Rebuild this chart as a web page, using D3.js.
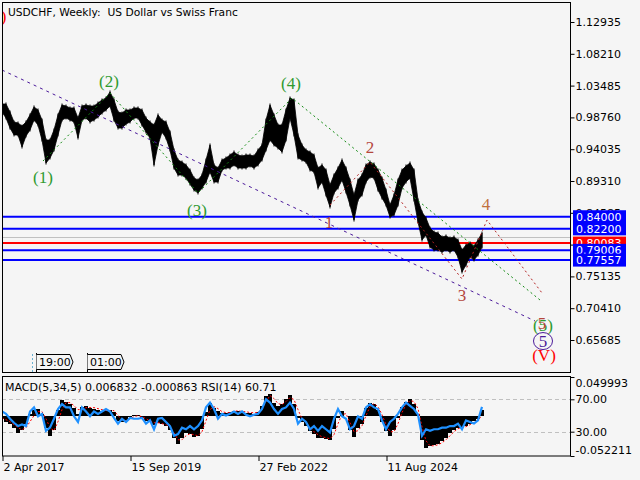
<!DOCTYPE html>
<html><head><meta charset="utf-8">
<script src="https://cdn.jsdelivr.net/npm/d3@7"></script>
<style>
body{margin:0;background:#f5f5f5}
svg{display:block}
text{font-family:"DejaVu Sans",sans-serif}
</style></head>
<body><svg id="c" width="640" height="480"></svg>
<script>
// ---------- DATA ----------
const startWeek = "2017-04-02";
const stepWeeks = 4;
const highs = [1.0075,1.0075,0.9956,0.9808,0.9793,0.9748,0.9808,0.9912,1.0031,0.9986,
0.9837,0.9540,0.9540,0.9689,0.9912,1.0060,1.0045,1.0016,1.0016,0.9867,
1.0045,1.0060,1.0045,1.0045,1.0090,1.0135,1.0164,1.0253,1.0135,0.9956,
0.9941,0.9986,0.9986,1.0016,1.0016,0.9986,0.9867,0.9808,0.9763,0.9912,
0.9837,0.9808,0.9659,0.9392,0.9243,0.9213,0.9169,0.9094,0.8975,0.8946,
0.9020,0.9243,0.9466,0.9169,0.9124,0.9243,0.9273,0.9317,0.9362,0.9317,
0.9302,0.9317,0.9317,0.9302,0.9392,0.9466,0.9837,1.0060,0.9912,0.9763,
0.9763,0.9986,1.0164,1.0135,0.9615,0.9466,0.9392,0.9362,0.9317,0.9124,
0.9169,0.9094,0.8872,0.9020,0.9124,0.9243,0.9124,0.8946,0.8723,0.8946,
0.9020,0.9169,0.9213,0.9184,0.9094,0.8975,0.8797,0.8574,0.8723,0.8946,
0.9094,0.9154,0.9198,0.9094,0.8649,0.8470,0.8381,0.8232,0.8173,0.8158,
0.8099,0.8114,0.8084,0.8099,0.8054,0.7906,0.7980,0.8010,0.7965,0.8054,
0.8158];
const lows = [0.9956,0.9867,0.9718,0.9615,0.9615,0.9436,0.9600,0.9689,0.9837,0.9763,
0.9540,0.9198,0.9273,0.9392,0.9615,0.9837,0.9867,0.9837,0.9808,0.9570,
0.9837,0.9867,0.9808,0.9837,0.9882,0.9941,0.9986,1.0045,0.9837,0.9718,
0.9718,0.9778,0.9808,0.9867,0.9867,0.9763,0.9659,0.9570,0.9169,0.9466,
0.9659,0.9570,0.9392,0.9124,0.9020,0.9020,0.8975,0.8886,0.8797,0.8753,
0.8827,0.8916,0.9065,0.8916,0.8916,0.9094,0.9124,0.9124,0.9169,0.9124,
0.9124,0.9124,0.9154,0.9124,0.9169,0.9243,0.9392,0.9540,0.9466,0.9421,
0.9362,0.9540,0.9867,0.9615,0.9273,0.9243,0.9213,0.9094,0.9065,0.8827,
0.8916,0.8723,0.8545,0.8753,0.8827,0.8946,0.8767,0.8574,0.8351,0.8649,
0.8723,0.8916,0.8990,0.8975,0.8797,0.8678,0.8574,0.8396,0.8426,0.8574,
0.8827,0.8916,0.8975,0.8649,0.8322,0.8054,0.8128,0.7950,0.7906,0.7906,
0.7876,0.7906,0.7876,0.7906,0.7802,0.7579,0.7683,0.7802,0.7757,0.7831,
0.7950];
const macd = [-0.0039,-0.0078,-0.0104,-0.0156,-0.0221,-0.0182,-0.0104,0.0026,0.0078,0.0091,
0.0026,-0.0156,-0.026,-0.0182,0.0078,0.0208,0.0182,0.0156,0.0104,0.0026,
0.0117,0.013,0.0104,0.0091,0.0078,0.0065,0.0065,0.0078,0.0052,-0.0065,
-0.0078,-0.0065,-0.0013,0.0013,0.0013,-0.0026,-0.0065,-0.0078,-0.0117,-0.0091,
-0.0104,-0.013,-0.0182,-0.0286,-0.0364,-0.0286,-0.0221,-0.0234,-0.0273,-0.026,
-0.0169,0.0052,0.0169,0.0104,0.0065,0.0039,0.0039,0.0052,0.0065,0.0065,
0.0052,0.0039,0.0039,0.0026,0.0052,0.013,0.026,0.0286,0.0169,0.013,
0.0156,0.0221,0.0273,0.0156,-0.0026,-0.0078,-0.013,-0.0195,-0.0234,-0.0286,
-0.0286,-0.0299,-0.0312,-0.0169,-0.0026,0.0065,0.0,-0.0182,-0.0273,-0.0156,
-0.0104,0.0104,0.0169,0.0156,0.0078,-0.0078,-0.0195,-0.026,-0.0182,-0.0026,
0.0117,0.0182,0.0221,0.0156,0.0026,-0.0312,-0.0416,-0.039,-0.0377,-0.0364,
-0.0325,-0.0286,-0.0221,-0.0182,-0.0156,-0.0143,-0.013,-0.0104,-0.0065,-0.0039,
0.006832];
const signal = [-0.0026,-0.0052,-0.0078,-0.0117,-0.0156,-0.0182,-0.0156,-0.0078,0,0.0052,
0.0052,-0.0039,-0.0156,-0.0195,-0.0078,0.0078,0.0169,0.0169,0.013,0.0078,
0.0078,0.0104,0.0104,0.0104,0.0091,0.0078,0.0065,0.0065,0.0065,0,
-0.0052,-0.0065,-0.0039,-0.0013,0,-0.0013,-0.0039,-0.0065,-0.0091,-0.0091,
-0.0104,-0.0117,-0.0143,-0.0221,-0.0312,-0.0312,-0.026,-0.0234,-0.0247,-0.026,
-0.0208,-0.0065,0.0078,0.0117,0.0091,0.0052,0.0039,0.0039,0.0052,0.0065,
0.0052,0.0052,0.0039,0.0039,0.0039,0.0091,0.0182,0.026,0.0221,0.0156,
0.0143,0.0182,0.0234,0.0208,0.0078,-0.0039,-0.0091,-0.0156,-0.0208,-0.0247,
-0.0273,-0.0286,-0.0299,-0.0247,-0.0104,0.0013,0.0026,-0.0091,-0.0208,-0.0195,
-0.013,0,0.0117,0.0156,0.0117,0.0013,-0.0117,-0.0208,-0.0208,-0.0104,
0.0039,0.0143,0.0195,0.0182,0.0091,-0.0143,-0.0325,-0.039,-0.039,-0.0377,
-0.0351,-0.0312,-0.026,-0.0208,-0.0169,-0.0156,-0.0143,-0.0117,-0.0091,-0.0052,
-0.000863];
const rsi = [55,52,46,41,37,39,37,55,60,49,
52,31,35,46,58,64,60,60,49,42,
60,55,49,55,52,55,58,55,47,40,
46,42,47,46,46,47,40,44,33,46,
47,42,37,25,27,35,33,37,33,37,
44,60,66,58,46,52,50,52,55,52,
55,51,49,51,52,58,70,66,58,52,
58,60,66,58,40,46,42,33,37,31,
37,33,29,46,58,49,46,33,37,49,
46,60,64,60,58,44,33,42,46,52,
60,66,62,58,51,25,33,31,33,33,
35,35,37,37,40,33,44,42,40,44,
60.71];
const priceTicks = [1.12935,1.08210,1.03485,0.98760,0.94035,0.89310,0.84585,0.79860,0.75135,0.70410,0.65685];
const dateTickWeeks = [0,128,256,384];
const dateTickLabels = ["2 Apr 2017","15 Sep 2019","27 Feb 2022","11 Aug 2024"];
const levelValues = [0.84000,0.82200,0.80083,0.79006,0.77557];
const levelKinds = ["blue","blue","red","blue","blue"];
const askPrice = 0.8094;
// wave points: [week offset from start, price]
const waveGreen = [[41,0.9228],[108,1.0238],[196,0.8753],[290,1.0164],[538,0.7163]];
const waveRed = [[328,0.8574],[368,0.9213],[460,0.7475],[485,0.8351],[540,0.7267]];
const wavePurple = [[0,1.0580],[533,0.6851]];
const waveLabels = [
  {t:"(1)",w:41,p:0.8990,k:"g"},{t:"(2)",w:107,p:1.0402,k:"g"},{t:"(3)",w:195,p:0.8500,k:"g"},
  {t:"(4)",w:289,p:1.0387,k:"g"},{t:"(5)",w:541,p:0.6791,k:"g"},
  {t:"1",w:327,p:0.8307,k:"r"},{t:"2",w:368,p:0.9436,k:"r"},{t:"3",w:460,p:0.7237,k:"r"},
  {t:"4",w:484,p:0.8589,k:"o"},{t:"5",w:540,p:0.6814,k:"r"},
  {t:"5",w:541,p:0.6553,k:"p",circle:true},{t:"(V)",w:542,p:0.6345,k:"v"},
  {t:")",w:1.5,p:1.1368,k:"v"}
];
const titleText = "USDCHF, Weekly:  US Dollar vs Swiss Franc";
const subTitle = "MACD(5,34,5) 0.006832 -0.000863 RSI(14) 60.71";

// ---------- CHART ----------
const svg = d3.select("#c");
svg.append("rect").attr("width",640).attr("height",480).attr("fill","#f5f5f5");
const WEEK = 7*24*3600*1000;
const t0 = Date.parse(startWeek+"T00:00:00Z");
const wk = n => new Date(t0 + n*WEEK);
const dates = highs.map((_,i)=>wk(i*stepWeeks));

const L=2, R=570, MT=2, MB=372.5, ST=376.5, SB=456;
const x = d3.scaleUtc().domain([wk(0),wk(568)]).range([L,R]);
const y = d3.scaleLinear().domain([0.65685,1.12935]).range([340,22]);
const yM = d3.scaleLinear().domain([-0.052211,0.049993]).range([SB,377]);
const yR = d3.scaleLinear().domain([0,100]).range([SB,375]);

const defs = svg.append("defs");
defs.append("clipPath").attr("id","cm").append("rect").attr("x",L+1).attr("y",MT+1).attr("width",R-L-1).attr("height",MB-MT-1);
defs.append("clipPath").attr("id","cs").append("rect").attr("x",L+1).attr("y",ST+1).attr("width",R-L-1).attr("height",SB-ST-1);

const gm = svg.append("g").attr("clip-path","url(#cm)");
const gs = svg.append("g").attr("clip-path","url(#cs)");

// level lines
gm.append("line").attr("x1",L).attr("x2",R).attr("y1",Math.round(y(askPrice))+0.5).attr("y2",Math.round(y(askPrice))+0.5)
  .attr("stroke","#c0c0c0").attr("stroke-width",1);
levelValues.forEach((v,i)=>{
  gm.append("line").attr("x1",L).attr("x2",R).attr("y1",y(v)).attr("y2",y(v))
    .attr("stroke",levelKinds[i]==="red"?"#ff0000":"#0000ff").attr("stroke-width",2);
});

// price band (weekly bars' high-low envelope)
const area = d3.area().x((d,i)=>x(dates[i])).y0((d,i)=>y(lows[i])).y1((d,i)=>y(highs[i]));
gm.append("path").datum(highs).attr("d",area).attr("fill","#000").attr("stroke","#000").attr("stroke-width",0.8).attr("stroke-linejoin","round");
gm.selectAll("line.bar").data(highs).enter().append("line").attr("class","bar")
  .attr("x1",(d,i)=>x(dates[i])).attr("x2",(d,i)=>x(dates[i]))
  .attr("y1",d=>y(d)-1.5).attr("y2",(d,i)=>y(lows[i])+1.5).attr("stroke","#000").attr("stroke-width",1);

// wave lines
const wl = d3.line().x(d=>x(wk(d[0]))).y(d=>y(d[1]));
gm.append("path").datum(wavePurple).attr("d",wl).attr("fill","none").attr("stroke","#4b1a9a").attr("stroke-width",1).attr("stroke-dasharray","3,4");
gm.append("path").datum(waveGreen).attr("d",wl).attr("fill","none").attr("stroke","#138a13").attr("stroke-width",1).attr("stroke-dasharray","2,3");
gm.append("path").datum(waveRed).attr("d",wl).attr("fill","none").attr("stroke","#b22222").attr("stroke-width",1).attr("stroke-dasharray","2,3");

// wave labels
const lc = {g:"#2f9a2f",r:"#b4463c",o:"#c0703c",p:"#4b1a9a",v:"#ff0000"};
waveLabels.forEach(d=>{
  const cx = x(wk(d.w)), cy = y(d.p);
  if(d.circle) gm.append("ellipse").attr("cx",cx).attr("cy",cy).attr("rx",9.5).attr("ry",8.5).attr("fill","none").attr("stroke",lc[d.k]).attr("stroke-width",1);
  gm.append("text").attr("x",cx).attr("y",cy).attr("text-anchor","middle").attr("dominant-baseline","central")
    .style("font-family","'Liberation Serif',serif").style("font-size","17px").attr("fill",lc[d.k]).text(d.t);
});

// time tags
[[37,"19:00"],[88,"01:00"]].forEach(([tx,s])=>{
  gm.append("line").attr("x1",tx-0.5).attr("x2",tx-0.5).attr("y1",353).attr("y2",373).attr("stroke","#000");
  gm.append("path").attr("d",`M${tx-0.5},354.5H${tx+33}L${tx+36},362L${tx+33},369.5H${tx-0.5}`).attr("fill","#f5f5f5").attr("stroke","#000");
  gm.append("text").attr("x",tx+2).attr("y",366).style("font-size","11px").attr("fill","#000").text(s);
});
gm.append("line").attr("x1",32.5).attr("x2",32.5).attr("y1",354).attr("y2",372).attr("stroke","#6ab0d0").attr("stroke-dasharray","2,2");

// title
svg.append("text").attr("x",8).attr("y",16).style("font-size","10.7px").attr("xml:space","preserve").text(titleText);

// ---- sub window ----
[70,30].forEach(v=>{
  gs.append("line").attr("x1",L).attr("x2",R).attr("y1",Math.round(yR(v))+0.5).attr("y2",Math.round(yR(v))+0.5)
    .attr("stroke","#c0c0c0").attr("stroke-dasharray","4,3");
});
gs.selectAll("rect.h").data(macd).enter().append("rect").attr("class","h")
  .attr("x",(d,i)=>x(dates[i])-2).attr("width",4)
  .attr("y",d=>yM(Math.max(0,d))).attr("height",d=>Math.abs(yM(d)-yM(0)))
  .attr("fill","#000").attr("shape-rendering","crispEdges");
gs.append("path").datum(signal).attr("d",d3.line().x((d,i)=>x(dates[i])).y(d=>yM(d)))
  .attr("fill","none").attr("stroke","#ff0000").attr("stroke-width",1).attr("stroke-dasharray","2,2");
gs.append("path").datum(rsi).attr("d",d3.line().x((d,i)=>x(dates[i])).y(d=>yR(d)))
  .attr("fill","none").attr("stroke","#1e90ff").attr("stroke-width",2.2);
svg.append("text").attr("x",5).attr("y",391).style("font-size","11px").text(subTitle);

// frames
svg.append("rect").attr("x",L+0.5).attr("y",MT+0.5).attr("width",R-L).attr("height",MB-MT-0.5).attr("fill","none").attr("stroke","#000");
svg.append("rect").attr("x",L+0.5).attr("y",ST).attr("width",R-L).attr("height",SB-ST).attr("fill","none").attr("stroke","#000");

// right price axis
const ax = svg.append("g").attr("transform",`translate(${R+0.5},0)`)
  .call(d3.axisRight(y).tickValues(priceTicks).tickSize(4).tickPadding(1).tickFormat(d=>d.toFixed(5)));
ax.select(".domain").remove();
ax.selectAll("text").style("font-family","'DejaVu Sans'").style("font-size","11px").attr("fill","#000");

// level boxes
levelValues.forEach((v,i)=>{
  const cy = y(v);
  svg.append("rect").attr("x",573).attr("y",cy-6.5).attr("width",53).attr("height",13)
    .attr("fill",levelKinds[i]==="red"?"#ff0000":"#0000ff");
  svg.append("text").attr("x",576).attr("y",cy).attr("dy","0.36em").style("font-size","11px").attr("fill","#fff").text(v.toFixed(5));
});

// sub axes
const am = svg.append("g").attr("transform",`translate(${R+0.5},0)`)
  .call(d3.axisRight(yM).tickValues([0.049993,-0.052211]).tickSize(4).tickPadding(1).tickFormat(d=>d.toFixed(6)));
am.select(".domain").remove();
am.selectAll("text").style("font-size","11px").attr("dy",(d)=> d>0 ? "0.85em" : "-0.25em");
const ar = svg.append("g").attr("transform",`translate(${R+0.5},0)`)
  .call(d3.axisRight(yR).tickValues([70,30]).tickSize(4).tickPadding(1).tickFormat(d=>d.toFixed(2)));
ar.select(".domain").remove();
ar.selectAll("text").style("font-size","11px");

// bottom date axis
const ab = svg.append("g").attr("transform",`translate(0,${SB})`)
  .call(d3.axisBottom(x).tickValues(dateTickWeeks.map(wk)).tickSize(5).tickFormat((d,i)=>dateTickLabels[i]));
ab.select(".domain").remove();
ab.selectAll(".tick line").attr("transform","translate(0.5,0)");
ab.selectAll("text").attr("text-anchor","start").attr("x",1).attr("y",7).attr("dy","0.71em").style("font-size","11px");
</script></body></html>
